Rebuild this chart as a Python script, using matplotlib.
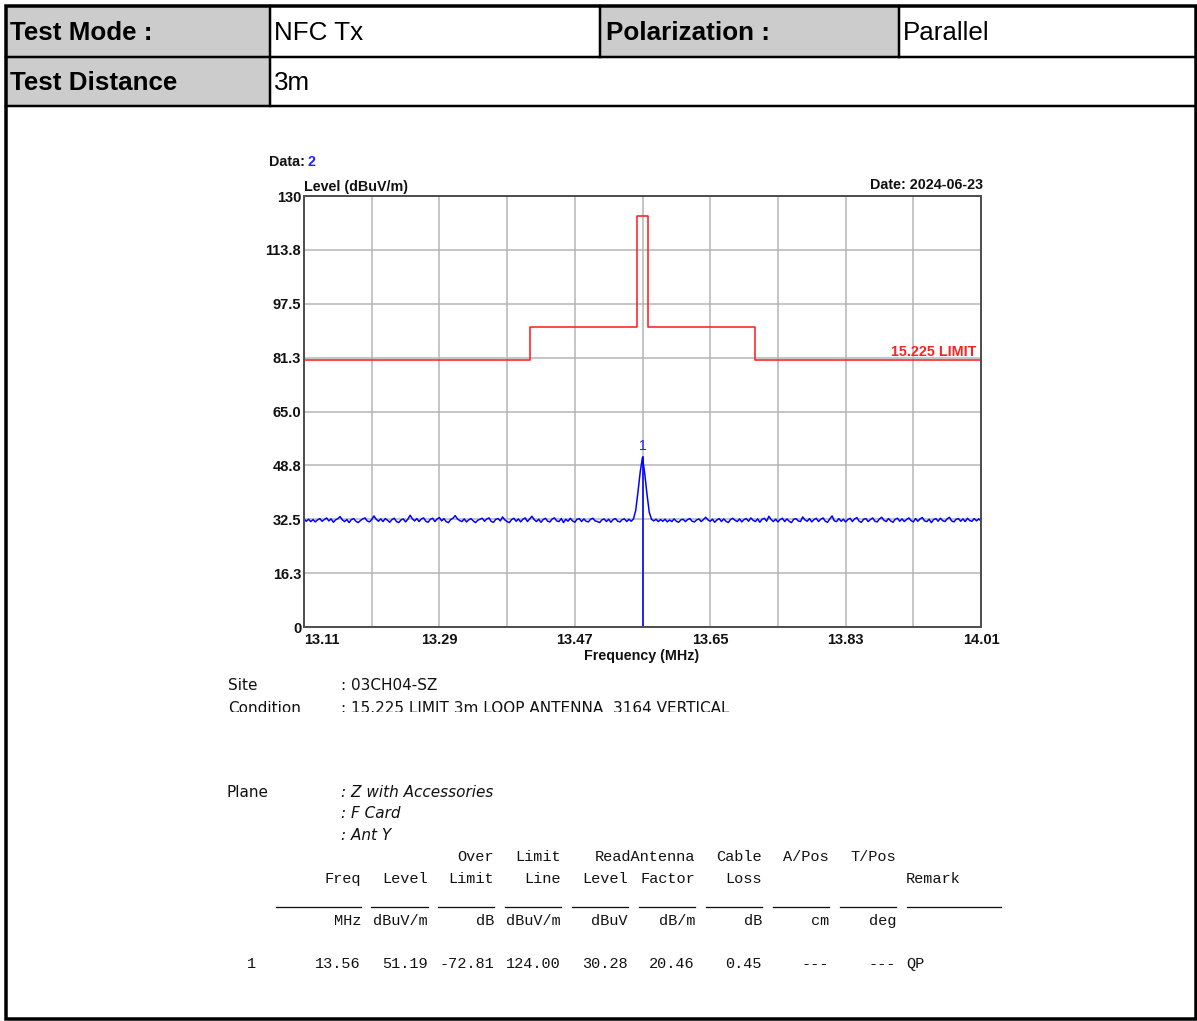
import numpy as np
import matplotlib
matplotlib.use("Agg")
import matplotlib.pyplot as plt
from matplotlib.patches import Rectangle

# header table
header_row1 = ["Test Mode :", "NFC Tx", "Polarization :", "Parallel"]
header_row2 = ["Test Distance", "3m"]

# scan: 13.11 .. 14.01 MHz, 0.003 MHz step
f_start, f_stop = 13.11, 14.01
level = [
    32.6, 31.9, 32.5, 31.8, 32.4, 31.7, 32.3, 32.7, 31.9, 32.4,
    32.9, 32.0, 32.6, 31.6, 32.3, 32.7, 33.3, 32.3, 31.8, 32.4,
    31.5, 32.4, 32.7, 31.9, 31.5, 32.1, 32.6, 32.9, 32.0, 31.7,
    32.4, 33.5, 32.5, 31.9, 32.6, 31.8, 32.7, 32.2, 31.6, 32.4,
    32.8, 31.8, 31.5, 32.3, 32.6, 31.7, 32.5, 33.7, 32.7, 32.0,
    32.7, 31.8, 32.6, 32.9, 31.9, 31.6, 32.5, 32.8, 31.8, 32.6,
    33.0, 32.0, 32.7, 31.8, 31.5, 32.4, 32.8, 33.6, 32.6, 32.1,
    31.8, 32.6, 31.7, 32.3, 32.7, 32.0, 31.5, 32.2, 32.5, 32.8,
    31.9, 32.6, 32.9, 31.8, 31.6, 32.5, 32.7, 32.0, 33.2, 32.3,
    31.8, 31.5, 32.4, 32.8, 31.9, 32.6, 31.7, 32.5, 32.9, 31.8,
    32.6, 33.4, 32.4, 31.8, 32.5, 31.6, 32.4, 32.8, 31.9, 31.7,
    32.6, 32.9, 32.0, 31.8, 32.7, 31.5, 32.5, 31.9, 32.8, 32.0,
    31.6, 32.5, 32.7, 31.8, 32.6, 31.9, 31.7, 32.5, 32.8, 32.0,
    31.8, 31.5, 32.3, 32.6, 31.8, 32.5, 31.6, 32.4, 32.7, 31.9,
    31.7, 32.4, 32.6, 31.8, 32.5, 31.9, 32.6, 35.2, 40.8, 46.8,
    51.19, 46.2, 40.0, 34.6, 32.5, 32.0, 32.5, 31.8, 32.4, 31.9,
    32.5, 31.7, 32.3, 31.8, 32.6, 31.9, 31.6, 32.3, 32.5, 31.8,
    32.4, 32.7, 31.9, 31.7, 32.3, 32.6, 31.8, 32.4, 33.1, 32.3,
    31.9, 32.5, 31.6, 32.3, 32.7, 31.8, 32.6, 31.9, 31.5, 32.4,
    32.8, 32.2, 31.8, 32.6, 31.7, 32.4, 32.7, 31.9, 32.9, 32.2,
    31.8, 32.6, 31.6, 32.5, 32.8, 31.9, 33.4, 32.4, 31.8, 32.5,
    31.7, 32.4, 32.8, 31.8, 32.6, 31.9, 31.5, 32.5, 32.7, 32.0,
    31.8, 33.2, 32.3, 31.9, 32.7, 31.7, 32.4, 32.8, 31.8, 32.5,
    32.9, 31.9, 31.6, 32.6, 33.5, 32.0, 31.8, 32.7, 31.9, 32.5,
    31.7, 32.4, 32.8, 31.8, 32.6, 33.0, 31.9, 31.6, 32.5, 32.7,
    31.8, 32.4, 32.9, 31.9, 31.7, 32.6, 33.1, 32.2, 31.8, 32.7,
    32.0, 31.6, 32.5, 32.8, 31.9, 32.6, 31.8, 32.4, 32.9, 32.1,
    31.7, 32.7, 31.9, 32.6, 33.0, 32.0, 31.8, 32.5, 31.5, 32.4,
    32.7, 31.9, 32.8, 32.1, 31.8, 32.6, 33.1, 32.0, 31.7, 32.5,
    32.7, 31.9, 32.6, 31.8, 32.8, 32.1, 31.9, 32.7, 32.0, 32.6,
    32.0,
]
freq = np.linspace(f_start, f_stop, len(level))

# 15.225 limit (3m)
limit_f = [13.11, 13.41, 13.553, 13.567, 13.71, 14.01]
limit_v = [80.5, 90.5, 124.0, 90.5, 80.5, 80.5]

marker_f = 13.56
marker_v = 51.19

xticks = [13.11, 13.20, 13.29, 13.38, 13.47, 13.56, 13.65, 13.74, 13.83, 13.92, 14.01]
xlabels = ["13.11", "", "13.29", "", "13.47", "", "13.65", "", "13.83", "", "14.01"]
yticks = [0, 16.25, 32.5, 48.75, 65.0, 81.25, 97.5, 113.75, 130]
ylabels = ["0", "16.3", "32.5", "48.8", "65.0", "81.3", "97.5", "113.8", "130"]

site = "03CH04-SZ"
condition = "15.225 LIMIT 3m LOOP ANTENNA  3164 VERTICAL"
plane = ["Z with Accessories", "F Card", "Ant Y"]

cols_top = ["", "", "Over", "Limit", "", "ReadAntenna", "Cable", "A/Pos", "T/Pos"]
cols_mid = ["Freq", "Level", "Limit", "Line", "Level", "Factor", "Loss", "", ""]
cols_unit = ["MHz", "dBuV/m", "dB", "dBuV/m", "dBuV", "dB/m", "dB", "cm", "deg"]
row1 = ["13.56", "51.19", "-72.81", "124.00", "30.28", "20.46", "0.45", "---", "---"]
remark = "QP"

W, H = 1197, 1021
fig = plt.figure(figsize=(W / 100, H / 100), dpi=100)
bg = fig.add_axes([0, 0, 1, 1])
bg.set_xlim(0, W)
bg.set_ylim(H, 0)
bg.axis("off")

px = 0.72  # points per pixel
gray = "#cccccc"
for x0, y0, x1, y1 in [(7, 7, 270, 57), (600, 7, 899, 57), (7, 57, 270, 106)]:
    bg.add_patch(Rectangle((x0, y0), x1 - x0, y1 - y0, color=gray, lw=0))
bg.add_patch(Rectangle((6, 6), 1189.5, 1013, fill=False, ec="black", lw=3.5 * px))
for y in [57, 106]:
    bg.plot([6, 1195.5], [y, y], color="black", lw=2.5 * px)
bg.plot([270, 270], [6, 106], color="black", lw=2.5 * px)
for x in [600, 899]:
    bg.plot([x, x], [6, 57], color="black", lw=2.5 * px)

hfont = dict(family="Liberation Sans", fontsize=18.7, va="center")
bg.text(10, 33, header_row1[0], fontweight="bold", **hfont)
bg.text(274, 33, header_row1[1], **hfont)
bg.text(606, 33, header_row1[2], fontweight="bold", **hfont)
bg.text(903, 33, header_row1[3], **hfont)
bg.text(10, 83, header_row2[0], fontweight="bold", **hfont)
bg.text(274, 83, header_row2[1], **hfont)

# chart
ax = fig.add_axes([304 / W, 1 - 627 / H, 677 / W, 431 / H])
ax.set_facecolor("white")
ax.set_xlim(f_start, f_stop)
ax.set_ylim(0, 130)
ax.set_xticks(xticks)
ax.set_xticklabels(xlabels)
ax.set_yticks(yticks)
ax.set_yticklabels(ylabels)
ax.grid(True, color="#b4b4b4", lw=1.5 * px)
ax.set_axisbelow(True)
ax.tick_params(length=0, labelsize=10.5, labelcolor="#111111")
ax.tick_params(axis="x", pad=4)
ax.tick_params(axis="y", pad=2)
for lab in ax.get_xticklabels() + ax.get_yticklabels():
    lab.set_fontweight("bold")
    lab.set_family("Liberation Sans")
ax.get_xticklabels()[0].set_horizontalalignment("left")
for s in ax.spines.values():
    s.set_color("#505050")
    s.set_linewidth(2 * px)

ax.step(limit_f, limit_v, where="post", color="#ff2020", lw=1.6 * px)
ax.plot(freq, level, color="#0000ff", lw=1.5 * px)
ax.plot([marker_f, marker_f], [0, marker_v], color="#0000ff", lw=1.6 * px)
ax.text(marker_f, marker_v + 1.2, "1", color="#2020ff", fontsize=10, ha="center", va="bottom",
        family="Liberation Sans")
ax.text(0.993, 80.5 + 0.4, "15.225 LIMIT", transform=ax.get_yaxis_transform(), color="#ff2020",
        fontsize=10.3, fontweight="bold", ha="right", va="bottom", family="Liberation Sans")

tfont = dict(family="Liberation Sans", fontsize=10.3, fontweight="bold", color="#111111")
bg.text(304, 187, "Level (dBuV/m)", va="center", ha="left", **tfont)
bg.text(983, 185, "Date: 2024-06-23", va="center", ha="right", **tfont)
bg.text(269, 162, "Data:", va="center", ha="left", **tfont)
bg.text(307, 162, "2", va="center", ha="left", family="Liberation Sans", fontsize=10.3,
        fontweight="bold", color="#2020ff")
bg.text(642, 656, "Frequency (MHz)", va="center", ha="center", **tfont)

# info text
nfont = dict(family=["Liberation Sans Narrow", "DejaVu Sans"], fontsize=11, color="#111111",
             va="center")
bg.text(228, 685, "Site", **nfont)
bg.text(341, 685, ": " + site, **nfont)
bg.text(228, 713, "Condition", family=["Liberation Sans Narrow", "DejaVu Sans"], fontsize=11,
        color="#111111", va="baseline")
bg.text(341, 713, ": " + condition, family=["Liberation Sans Narrow", "DejaVu Sans"],
        fontsize=11, color="#111111", va="baseline")
bg.add_patch(Rectangle((200, 711.5), 600, 20, color="white", lw=0, zorder=5))

bg.text(227, 792, "Plane", **nfont)
for i, p in enumerate(plane):
    bg.text(341, 792 + 21.5 * i, ": " + p, style="italic", **nfont)

# result table
mfont = dict(family=["Liberation Mono", "DejaVu Sans Mono"], fontsize=11, color="#111111",
             va="center", ha="right")
col_right = [361, 428, 494, 561, 628, 695, 762, 829, 896]
col_left = [276, 371, 438, 505, 572, 639, 706, 773, 840]
for i, xr in enumerate(col_right):
    bg.text(xr, 857, cols_top[i], **mfont)
    bg.text(xr, 879, cols_mid[i], **mfont)
    bg.text(xr, 921, cols_unit[i], **mfont)
    bg.text(xr, 964, row1[i], **mfont)
    bg.plot([col_left[i], xr], [907, 907], color="#111111", lw=1.3 * px)
bg.plot([907, 1001], [907, 907], color="#111111", lw=1.3 * px)
bg.text(906, 879, "Remark", family=["Liberation Mono", "DejaVu Sans Mono"], fontsize=11,
        color="#111111", va="center", ha="left")
bg.text(906, 964, remark, family=["Liberation Mono", "DejaVu Sans Mono"], fontsize=11,
        color="#111111", va="center", ha="left")
bg.text(251, 964, "1", family=["Liberation Mono", "DejaVu Sans Mono"], fontsize=11,
        color="#111111", va="center", ha="center")

fig.savefig("out.png", dpi=100)
